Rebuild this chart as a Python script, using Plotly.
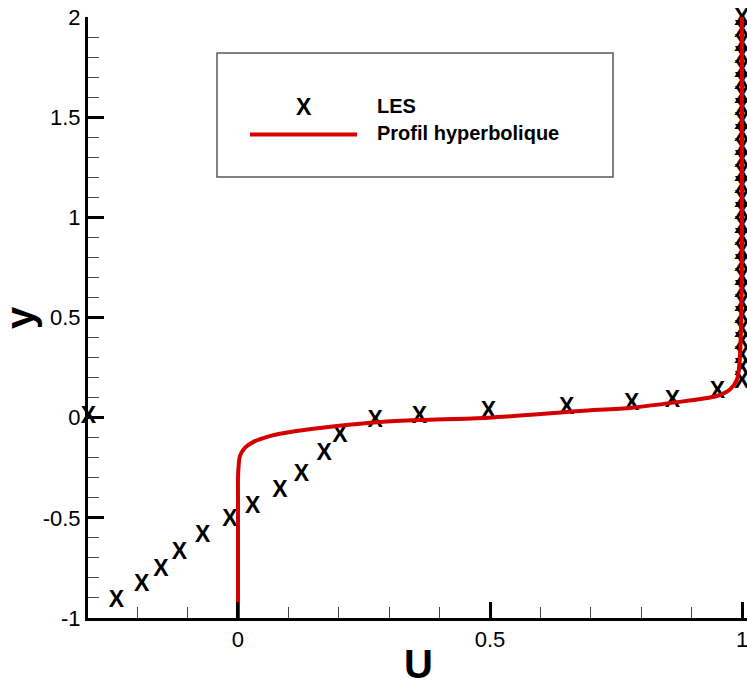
import plotly.graph_objects as go

# LES samples (U, y)
les_u = [-0.297, -0.241, -0.191, -0.153, -0.116, -0.070, -0.016, 0.029, 0.083,
         0.126, 0.171, 0.202, 0.272, 0.360, 0.497, 0.652, 0.781, 0.862, 0.951,
         1.000, 1.000, 1.000, 1.000, 1.000, 1.000, 1.000, 1.000, 1.000, 1.000,
         1.000, 1.000, 1.000, 1.000, 1.000, 1.000, 1.000, 1.000, 1.000, 1.000,
         1.000, 1.000, 1.000, 1.000, 1.000, 1.000, 1.000, 1.000, 1.000]
les_y = [0.000, -0.914, -0.836, -0.760, -0.675, -0.593, -0.510, -0.445, -0.366,
         -0.288, -0.183, -0.092, -0.017, 0.004, 0.025, 0.045, 0.066, 0.083, 0.125,
         0.176, 0.24, 0.30, 0.37, 0.43, 0.50, 0.56, 0.63, 0.69, 0.76,
         0.82, 0.89, 0.95, 1.02, 1.08, 1.15, 1.21, 1.28, 1.34, 1.41,
         1.47, 1.54, 1.60, 1.67, 1.73, 1.80, 1.86, 1.93, 1.99]

# Hyperbolic profile (U, y)
prof_u = [0.000, 0.000, 0.000, 0.001, 0.004, 0.014, 0.030, 0.063, 0.116, 0.196,
          0.282, 0.361, 0.497, 0.679, 0.781, 0.863, 0.950, 0.976, 0.990, 0.995,
          0.998, 1.000, 1.000]
prof_y = [-1.000, -0.400, -0.300, -0.250, -0.191, -0.150, -0.122, -0.092, -0.067, -0.042,
          -0.022, -0.012, 0.000, 0.033, 0.050, 0.075, 0.108, 0.141, 0.191, 0.274,
          0.440, 0.800, 2.000]

x_tickvals = [0, 0.5, 1]
x_ticktext = ["0", "0.5", "1"]
y_tickvals = [-1, -0.5, 0, 0.5, 1, 1.5, 2]
y_ticktext = ["-1", "-0.5", "0", "0.5", "1", "1.5", "2"]

series_names = ["LES", "Profil hyperbolique"]
axis_titles = ["U", "y"]

W, H = 747, 686
ML, MR, MT, MB = 88, 0, 17, 68
PW, PH = W - ML - MR, H - MT - MB

RED = "#d40000"
FONT = "Liberation Sans"


def px(x):
    return (x - ML) / PW


def py(y):
    return (H - MB - y) / PH


fig = go.Figure()

# LES points drawn as bold "X" characters
fig.add_trace(go.Scatter(
    x=les_u, y=les_y, mode="text", text=["X"] * len(les_u),
    textposition="middle center",
    textfont=dict(family=FONT, size=23, color="black", weight="bold"),
    name=series_names[0], showlegend=False, cliponaxis=False,
))

# profile curve on top of the points
fig.add_trace(go.Scatter(
    x=prof_u, y=prof_y, mode="lines",
    line=dict(color=RED, width=4, shape="spline", smoothing=0.8),
    name=series_names[1], showlegend=False, hoverinfo="skip",
))

axis_common = dict(
    showline=True, linewidth=3, linecolor="black",
    ticks="inside", ticklen=16, tickwidth=3, tickcolor="black",
    showgrid=False, zeroline=False,
    tickfont=dict(family=FONT, size=22, color="black"),
    ticklabeloverflow="allow",
)

fig.update_xaxes(
    range=[-0.2976, 1.0099], tickmode="array",
    tickvals=x_tickvals, ticktext=x_ticktext,
    minor=dict(ticks="inside", ticklen=11, tickwidth=1, tickcolor="#444",
               tickmode="linear", tick0=0, dtick=0.1, showgrid=False),
    **axis_common,
)
fig.update_yaxes(
    range=[-1, 2], tickmode="array",
    tickvals=y_tickvals, ticktext=y_ticktext,
    minor=dict(ticks="inside", ticklen=11, tickwidth=1, tickcolor="#444",
               tickmode="linear", tick0=0, dtick=0.1, showgrid=False),
    **axis_common,
)

# legend box
shapes = [
    dict(type="rect", xref="paper", yref="paper",
         x0=px(217), x1=px(613), y0=py(177), y1=py(53),
         line=dict(color="#5a5a5a", width=1.5), fillcolor="white", layer="below"),
    dict(type="line", xref="paper", yref="paper",
         x0=px(250), x1=px(357), y0=py(134.5), y1=py(134.5),
         line=dict(color=RED, width=4)),
]

annotations = [
    dict(text="X", x=px(303.5), y=py(107), xref="paper", yref="paper",
         xanchor="center", yanchor="middle", showarrow=False,
         font=dict(family=FONT, size=23, color="black", weight="bold")),
    dict(text=series_names[0], x=px(375), y=py(106), xref="paper", yref="paper",
         xanchor="left", yanchor="middle", showarrow=False,
         font=dict(family=FONT, size=20, color="black", weight="bold")),
    dict(text=series_names[1], x=px(375), y=py(133), xref="paper", yref="paper",
         xanchor="left", yanchor="middle", showarrow=False,
         font=dict(family=FONT, size=20, color="black", weight="bold")),
    dict(text=axis_titles[0], x=px(418), y=py(664), xref="paper", yref="paper",
         xanchor="center", yanchor="middle", showarrow=False,
         font=dict(family=FONT, size=40, color="black", weight="bold")),
    dict(text=axis_titles[1], x=px(20), y=py(318), xref="paper", yref="paper",
         xanchor="center", yanchor="middle", showarrow=False, textangle=-90,
         font=dict(family=FONT, size=40, color="black", weight="bold")),
]

fig.update_layout(
    width=W, height=H,
    margin=dict(l=ML, r=MR, t=MT, b=MB, pad=0),
    paper_bgcolor="white", plot_bgcolor="white",
    shapes=shapes, annotations=annotations,
    showlegend=False,
)

fig.write_html("out.html")
